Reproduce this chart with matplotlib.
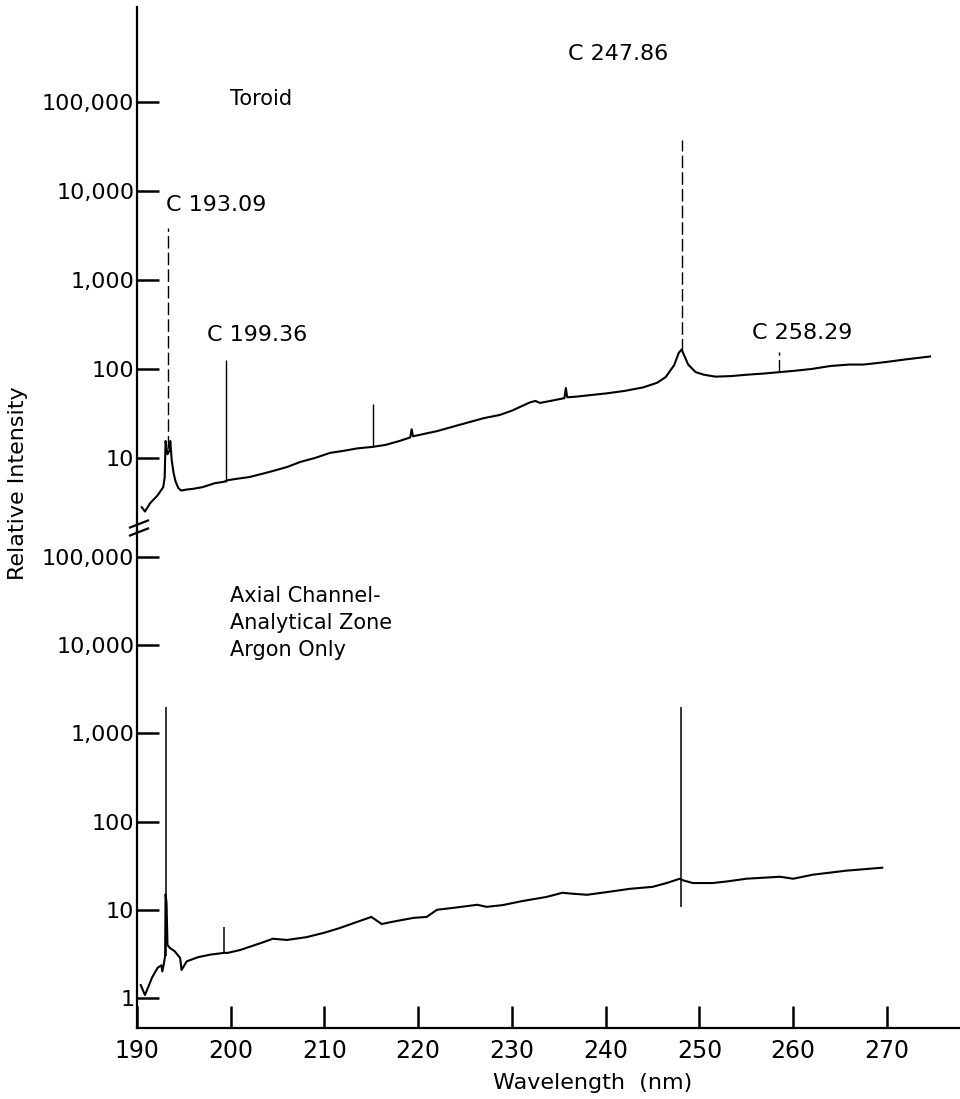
import matplotlib
matplotlib.use("Agg")
import matplotlib.pyplot as plt
from matplotlib.lines import Line2D

# ---------------- data ----------------
# Upper spectrum (Toroid) - continuum trace
top_nm = [190.5, 190.85, 191.4, 192.2, 192.8, 192.95, 193.05, 193.15, 193.25,
          193.45, 193.55, 193.7, 193.9, 194.1, 194.4, 194.7, 195.2, 196.0, 197.0,
          198.3, 199.3, 199.6, 200.5, 202.0, 204.0, 206.0, 207.4, 209.0, 210.6,
          212.0, 213.5, 215.1, 216.5, 218.0, 219.15, 219.3, 219.45, 220.5, 222.0,
          223.4, 225.0, 227.0, 228.7, 230.0, 231.9, 232.5, 233.0, 234.0, 235.6,
          235.75, 235.9, 237.0, 238.5, 240.0, 242.0, 244.0, 245.5, 246.4, 247.3,
          247.8, 248.1, 248.4, 248.8, 249.6, 250.5, 251.7, 253.3, 255.0, 257.0,
          258.5, 260.0, 262.0, 264.0, 266.0, 267.5, 268.5, 270.0, 272.0, 274.6]
top_val = [2.8, 2.5, 3.1, 3.8, 4.7, 6.0, 15.5, 13.0, 11.0,
           12.0, 15.5, 9.5, 6.8, 5.5, 4.6, 4.3, 4.4, 4.5, 4.7,
           5.2, 5.4, 5.6, 5.8, 6.1, 6.9, 7.9, 9.0, 10.0, 11.4,
           12.0, 12.8, 13.3, 14.0, 15.5, 17.0, 21.0, 17.5, 18.5, 20.0,
           22.0, 24.5, 28.0, 30.4, 34.0, 42.0, 43.7, 41.5, 43.5, 47.0,
           61.0, 48.0, 49.0, 51.0, 53.0, 56.6, 62.0, 70.0, 81.0, 110.0,
           152.0, 165.0, 140.0, 112.0, 92.0, 86.0, 82.0, 83.0, 86.0, 89.0,
           92.0, 95.0, 100.0, 108.0, 112.0, 112.0, 115.0, 120.0, 128.0, 138.0]

# Upper spectrum - sharp emission lines
top_line_nm = [193.35, 199.45, 215.2, 248.1, 258.5]
top_line_top = [3800, 125, 40, 37000, 155]
top_line_base = [13, 5.4, 13.3, 160, 92]
top_line_dashed = [True, False, False, True, True]

# Lower spectrum (Axial channel, argon only) - continuum trace
bot_nm = [190.4, 190.85, 191.6, 192.2, 192.6, 192.7, 192.85, 193.0, 193.05,
          193.15, 193.25, 193.5, 194.0, 194.6, 194.75, 195.3, 196.5, 197.8,
          199.3, 199.7, 201.0, 202.0, 203.5, 204.5, 206.0, 208.1, 210.0, 211.6,
          213.5, 215.0, 216.1, 217.5, 219.5, 220.9, 222.0, 224.0, 226.3, 227.3,
          229.0, 231.0, 233.7, 235.4, 236.5, 238.0, 240.0, 242.6, 245.0, 246.5,
          247.9, 248.3, 249.3, 251.4, 253.0, 255.0, 258.6, 260.0, 262.1, 265.7,
          269.5]
bot_val = [1.4, 1.08, 1.7, 2.2, 2.35, 2.0, 2.4, 3.0, 15.0,
           12.0, 4.0, 3.7, 3.4, 2.85, 2.08, 2.6, 2.9, 3.1,
           3.25, 3.25, 3.5, 3.8, 4.3, 4.7, 4.55, 4.9, 5.5, 6.2,
           7.3, 8.3, 6.9, 7.4, 8.1, 8.3, 10.0, 10.6, 11.4, 10.8,
           11.3, 12.5, 14.0, 15.6, 15.2, 14.8, 15.8, 17.3, 18.2, 20.1,
           22.5, 21.5, 20.1, 20.1, 21.0, 22.5, 23.7, 22.5, 25.0, 27.8,
           30.0]

# Lower spectrum - sharp emission lines
bot_line_nm = [193.1, 199.3, 248.0]
bot_line_top = [2000, 6.4, 2000]
bot_line_base = [3.0, 3.25, 10.8]

x_ticks = [190, 200, 210, 220, 230, 240, 250, 260, 270]
top_yticks = [10, 100, 1000, 10000, 100000]
top_ylabels = ["10", "100", "1,000", "10,000", "100,000"]
bot_yticks = [1, 10, 100, 1000, 10000, 100000]
bot_ylabels = ["1", "10", "100", "1,000", "10,000", "100,000"]

# ---------------- figure ----------------
plt.rcParams['font.family'] = ['DejaVu Sans']
W, H = 960, 1099
fig = plt.figure(figsize=(W / 100, H / 100), dpi=100)

def fx(px):
    return px / W

def fy(py):
    return 1 - py / H

left, right = 137, 960
y_top, y_mid, y_bot = 7, 531, 1028
ax_t = fig.add_axes([fx(left), fy(y_mid), fx(right - left), (y_mid - y_top) / H])
ax_b = fig.add_axes([fx(left), fy(y_bot), fx(right - left), (y_bot - y_mid) / H])

xlim = (190, 277.8)
for ax in (ax_t, ax_b):
    ax.set_xlim(*xlim)
    ax.set_yscale('log')
    ax.patch.set_alpha(0)
    for s in ('top', 'right'):
        ax.spines[s].set_visible(False)
    ax.spines['left'].set_linewidth(1.6)
    ax.minorticks_off()

ax_t.set_ylim(1.51, 1.167e6)
ax_b.set_ylim(0.457, 1.97e5)

ax_t.spines['bottom'].set_visible(False)
ax_t.tick_params(axis='x', bottom=False, labelbottom=False)
ax_b.spines['bottom'].set_linewidth(1.6)

ax_t.set_yticks(top_yticks, top_ylabels)
ax_b.set_yticks(bot_yticks, bot_ylabels)
for ax in (ax_t, ax_b):
    ax.tick_params(axis='y', which='major', direction='in', length=16, width=1.8,
                   labelsize=16, pad=2)
    ax.tick_params(axis='y', which='minor', left=False)
ax_b.set_xticks(x_ticks, [str(t) for t in x_ticks])
ax_b.tick_params(axis='x', direction='in', length=16, width=1.8, labelsize=17, pad=8)

# traces
ax_t.plot(top_nm, top_val, color='black', lw=1.5, solid_joinstyle='round')
for xn, yt, yb, dsh in zip(top_line_nm, top_line_top, top_line_base, top_line_dashed):
    ax_t.vlines(xn, yb, yt, color='black', lw=1.0,
                linestyles=(0, (9, 3)) if dsh else 'solid')

ax_b.plot(bot_nm, bot_val, color='black', lw=1.5, solid_joinstyle='round')
ax_b.vlines(bot_line_nm, bot_line_base, bot_line_top, color='black', lw=1.1)

# annotations
ax_t.text(199.9, 1.07e5, "Toroid", fontsize=15, va='center', ha='left')
ax_t.text(193.1, 6900, "C 193.09", fontsize=16, va='center', ha='left')
ax_t.text(197.5, 240, "C 199.36", fontsize=16, va='center', ha='left')
ax_t.text(236.0, 3.5e5, "C 247.86", fontsize=16, va='center', ha='left')
ax_t.text(255.6, 254, "C 258.29", fontsize=16, va='center', ha='left')
ax_b.text(199.9, 17800, "Axial Channel-\nAnalytical Zone\nArgon Only", fontsize=15,
          va='center', ha='left', linespacing=1.45)

fig.text(fx(18), fy(483), "Relative Intensity", rotation=90, fontsize=16,
         ha='center', va='center')
fig.text(fx(593), fy(1083), "Wavelength  (nm)", fontsize=16, ha='center', va='center')

# axis break marks
for cy in (524, 532):
    fig.add_artist(Line2D([fx(130), fx(148)], [fy(cy + 3.5), fy(cy - 3.5)],
                          color='black', lw=1.6))

fig.savefig("out.png", dpi=100)
